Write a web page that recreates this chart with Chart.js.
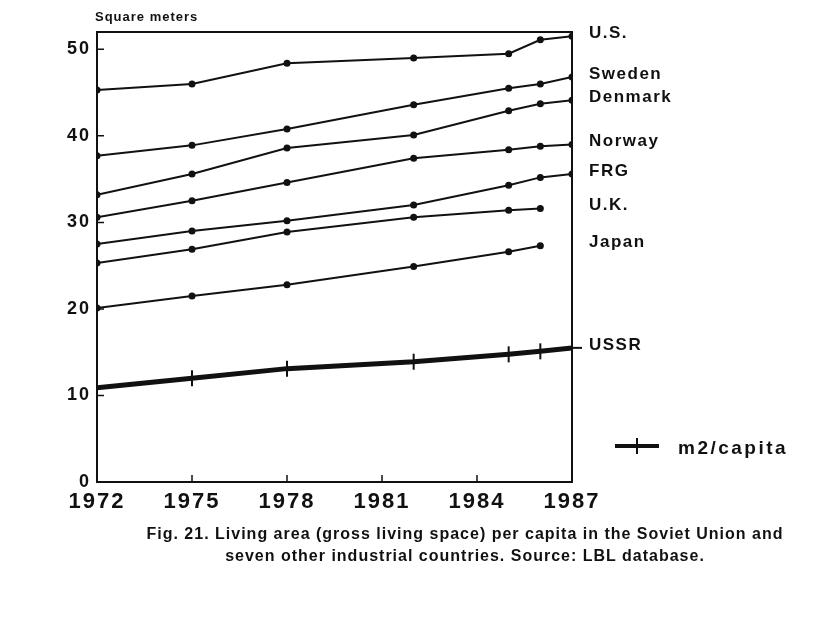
<!DOCTYPE html>
<html>
<head>
<meta charset="utf-8">
<script src="https://cdn.jsdelivr.net/npm/chart.js@4.4.1/dist/chart.umd.min.js"></script>
<style>
  html, body { margin: 0; padding: 0; background: #fff; overflow: hidden; }
  #wrap { position: relative; width: 827px; height: 621px; }
  #chart { position: absolute; left: 0; top: 0; }
  #caption {
    position: absolute; left: 65px; width: 800px; top: 523px;
    text-align: center; white-space: nowrap;
    font: bold 16px "Liberation Sans", Arial, sans-serif;
    letter-spacing: 1px; line-height: 22px; color: #111;
  }
</style>
</head>
<body>
<div id="wrap">
  <canvas id="chart" width="827" height="621"></canvas>
  <div id="caption">Fig. 21. Living area (gross living space) per capita in the Soviet Union and<br>seven other industrial countries. Source: LBL database.</div>
</div>
<script>
// survey years (data points)
const years = [1972, 1975, 1978, 1982, 1985, 1986, 1987];

// square meters per capita
const usValues      = [45.3, 46.0, 48.4, 49.0, 49.5, 51.1, 51.5];
const swedenValues  = [37.7, 38.9, 40.8, 43.6, 45.5, 46.0, 46.8];
const denmarkValues = [33.2, 35.6, 38.6, 40.1, 42.9, 43.7, 44.1];
const norwayValues  = [30.6, 32.5, 34.6, 37.4, 38.4, 38.8, 39.0];
const frgValues     = [27.5, 29.0, 30.2, 32.0, 34.3, 35.2, 35.6];
const ukValues      = [25.3, 26.9, 28.9, 30.6, 31.4, 31.6, null];
const japanValues   = [20.1, 21.5, 22.8, 24.9, 26.6, 27.3, null];
const ussrValues    = [10.9, 12.0, 13.1, 13.9, 14.75, 15.1, 15.5];

const countries = ['U.S.', 'Sweden', 'Denmark', 'Norway', 'FRG', 'U.K.', 'Japan', 'USSR'];
const seriesValues = [usValues, swedenValues, denmarkValues, norwayValues, frgValues, ukValues, japanValues, ussrValues];

const xTickYears = [1972, 1975, 1978, 1981, 1984, 1987];
const yTickValues = [0, 10, 20, 30, 40, 50];

const FONT = '"Liberation Sans", Arial, sans-serif';
const INK = '#111';

function toPoints(values) {
    const pts = [];
    values.forEach((v, i) => {
        if (v !== null) pts.push({ x: years[i], y: v });
    });
    return pts;
}

const datasets = seriesValues.map((values, i) => {
    const isUssr = countries[i] === 'USSR';
    const pts = toPoints(values);
    return {
        label: countries[i],
        data: pts,
        borderColor: INK,
        backgroundColor: INK,
        borderWidth: isUssr ? 5 : 2,
        tension: 0,
        pointStyle: isUssr ? 'line' : 'circle',
        rotation: isUssr ? 90 : 0,
        pointRadius: isUssr ? pts.map((p, j) => (j === 0 || j === pts.length - 1) ? 0 : 8) : 3.5,
        pointBorderWidth: isUssr ? 2 : 0,
        pointBackgroundColor: INK,
        pointBorderColor: INK
    };
});

// frame, inward ticks, right-hand labels, legend
const decor = {
    id: 'decor',
    beforeDraw(chart) {
        // wide tracking like the typeset original (used by the tick labels)
        chart.ctx.letterSpacing = '2px';
    },
    afterDraw(chart) {
        const { ctx, chartArea: a, scales } = chart;
        ctx.save();
        ctx.strokeStyle = INK;
        ctx.fillStyle = INK;

        ctx.lineWidth = 2;
        ctx.strokeRect(a.left, a.top, a.right - a.left, a.bottom - a.top);

        ctx.lineWidth = 1.5;
        ctx.beginPath();
        yTickValues.slice(1).forEach(v => {
            const py = scales.y.getPixelForValue(v);
            ctx.moveTo(a.left, py);
            ctx.lineTo(a.left + 7, py);
        });
        xTickYears.slice(1, -1).forEach(v => {
            const px = scales.x.getPixelForValue(v);
            ctx.moveTo(px, a.bottom);
            ctx.lineTo(px, a.bottom - 7);
        });
        ctx.stroke();

        ctx.letterSpacing = '1px';
        ctx.font = 'bold 13px ' + FONT;
        ctx.textAlign = 'left';
        ctx.textBaseline = 'middle';
        ctx.fillText('Square meters', a.left - 2, a.top - 15);

        ctx.font = 'bold 17px ' + FONT;
        ctx.letterSpacing = '1.5px';
        chart.data.datasets.forEach(ds => {
            const last = ds.data[ds.data.length - 1];
            const py = scales.y.getPixelForValue(last.y) - 3;
            ctx.fillText(ds.label, a.right + 17, py);
        });

        // USSR dash across the right frame
        const ussrLast = ussrValues[ussrValues.length - 1];
        const uy = scales.y.getPixelForValue(ussrLast);
        ctx.lineWidth = 2;
        ctx.beginPath();
        ctx.moveTo(a.right, uy);
        ctx.lineTo(a.right + 10, uy);
        ctx.stroke();

        // legend
        const ly = a.bottom - 36;
        const lx = a.right + 43;
        ctx.lineWidth = 4;
        ctx.beginPath();
        ctx.moveTo(lx, ly);
        ctx.lineTo(lx + 44, ly);
        ctx.stroke();
        ctx.lineWidth = 2;
        ctx.beginPath();
        ctx.moveTo(lx + 22, ly - 8);
        ctx.lineTo(lx + 22, ly + 8);
        ctx.stroke();
        ctx.font = 'bold 19px ' + FONT;
        ctx.letterSpacing = '2.5px';
        ctx.fillText('m2/capita', lx + 63, ly + 3);

        ctx.restore();
    }
};

new Chart(document.getElementById('chart'), {
    type: 'line',
    data: { datasets },
    options: {
        responsive: false,
        animation: false,
        layout: { padding: { top: 32, right: 255, bottom: 0, left: 0 } },
        plugins: {
            legend: { display: false },
            tooltip: { enabled: false }
        },
        scales: {
            x: {
                type: 'linear',
                min: 1972,
                max: 1987,
                afterBuildTicks: s => { s.ticks = xTickYears.map(v => ({ value: v })); },
                afterFit: s => { s.height = 139; },
                grid: { display: false, drawTicks: false },
                border: { display: false },
                ticks: {
                    color: INK,
                    padding: 7,
                    maxRotation: 0,
                    autoSkip: false,
                    callback: v => String(v),
                    font: { family: FONT, size: 22, weight: 'bold' }
                }
            },
            y: {
                min: 0,
                max: 52,
                afterBuildTicks: s => { s.ticks = yTickValues.map(v => ({ value: v })); },
                afterFit: s => { s.width = 97; },
                grid: { display: false, drawTicks: false },
                border: { display: false },
                ticks: {
                    color: INK,
                    padding: 6,
                    font: { family: FONT, size: 18, weight: 'bold' }
                }
            }
        }
    },
    plugins: [decor]
});
</script>
</body>
</html>
